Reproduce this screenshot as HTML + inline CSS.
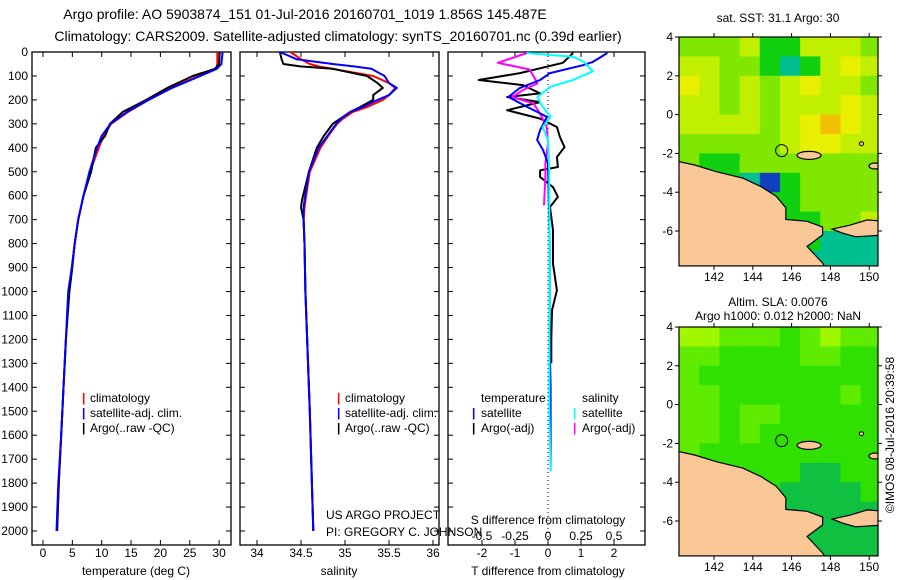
<!DOCTYPE html>
<html><head><meta charset="utf-8"><style>
html,body{margin:0;padding:0;background:#fff;}
svg{display:block;font-family:"Liberation Sans",sans-serif;font-size:12px;}
</style></head><body>
<svg id="fig" width="900" height="580" viewBox="0 0 900 580">
<text x="305" y="19" text-anchor="middle" font-size="14">Argo profile: AO 5903874_151 01-Jul-2016 20160701_1019 1.856S 145.487E</text>
<text x="338" y="41" text-anchor="middle" font-size="14">Climatology: CARS2009. Satellite-adjusted climatology: synTS_20160701.nc (0.39d earlier)</text>
<g id="p1"></g>
<g id="p2"></g>
<g id="p3"></g>
<g id="m1"></g>
<g id="m2"></g>
<text x="82" y="402" fill="red" font-weight="bold">|</text>
<text x="90" y="402">climatology</text>
<text x="82" y="417" fill="blue" font-weight="bold">|</text>
<text x="90" y="417">satellite-adj. clim.</text>
<text x="82" y="432" font-weight="bold">|</text>
<text x="90" y="432">Argo(..raw -QC)</text>
<text x="337" y="402" fill="red" font-weight="bold">|</text>
<text x="345" y="402">climatology</text>
<text x="337" y="417" fill="blue" font-weight="bold">|</text>
<text x="345" y="417">satellite-adj. clim.</text>
<text x="337" y="432" font-weight="bold">|</text>
<text x="345" y="432">Argo(..raw -QC)</text>
<text x="481" y="402">temperature</text>
<text x="582" y="402">salinity</text>
<text x="472" y="417" fill="blue" font-weight="bold">|</text>
<text x="481" y="417">satellite</text>
<text x="472" y="432" font-weight="bold">|</text>
<text x="481" y="432">Argo(-adj)</text>
<text x="573" y="417" fill="cyan" font-weight="bold">|</text>
<text x="582" y="417">satellite</text>
<text x="573" y="432" fill="magenta" font-weight="bold">|</text>
<text x="582" y="432">Argo(-adj)</text>
<text x="326" y="519">US ARGO PROJECT</text>
<text x="326" y="536">PI: GREGORY C. JOHNSON</text>
<text x="548" y="524" text-anchor="middle">S difference from climatology</text>
<text x="136" y="575" text-anchor="middle">temperature (deg C)</text>
<text x="339" y="575" text-anchor="middle">salinity</text>
<text x="548" y="575" text-anchor="middle">T difference from climatology</text>
<text x="778" y="22" text-anchor="middle">sat. SST: 31.1 Argo: 30</text>
<text x="778" y="306" text-anchor="middle">Altim. SLA: 0.0076</text>
<text x="778" y="320" text-anchor="middle">Argo h1000: 0.012 h2000: NaN</text>
<text transform="translate(894,435) rotate(-90)" text-anchor="middle">©IMOS 08-Jul-2016 20:39:58</text>
</svg>
<script>
// ---- profile data ----
const depthT = [0,50,70,100,150,200,250,300,350,400,500,600,700,800,900,1000,1200,1400,1600,1800,2000];
const tempClim = [29.7,29.7,29.5,26.5,21.8,18.0,14.5,11.6,10.3,9.5,8.0,6.9,6.0,5.4,4.9,4.4,3.9,3.5,3.1,2.7,2.4];
const tempSat  = [30.6,30.4,29.6,26.8,22.0,18.0,14.3,11.5,10.0,9.2,7.9,6.9,6.0,5.4,4.9,4.3,3.9,3.5,3.1,2.6,2.3];
const tempArgo = [30.1,30.0,29.3,25.5,21.2,17.6,13.6,11.4,10.6,9.0,8.2,6.9,6.0,5.4,5.0,4.5,3.9,3.5,3.1,2.7,2.4];
const depthS = [0,30,50,60,70,100,130,150,180,200,230,250,280,300,350,400,500,620,650,700,800,1000,1500,2000];
const salClim = [34.38,34.5,34.6,34.7,34.86,35.32,35.5,35.57,35.5,35.43,35.25,35.09,34.97,34.91,34.81,34.72,34.6,34.55,34.54,34.53,34.54,34.55,34.6,34.64];
const salSat  = [34.26,34.45,34.86,35.1,35.3,35.45,35.5,35.59,35.5,35.37,35.2,35.06,34.95,34.9,34.8,34.7,34.59,34.54,34.53,34.53,34.54,34.55,34.6,34.64];
const salArgo = [34.26,34.28,34.3,34.49,34.86,35.25,35.37,35.43,35.32,35.32,35.17,35.06,34.94,34.86,34.76,34.68,34.59,34.51,34.5,34.53,34.54,34.55,34.6,34.64];
const depthDT = [4,42,55,88,117,150,188,229,271,326,367,409,464,605,800,1000,1200,1400,1600,1750];
const tdiffSat = [1.8,1.35,1.06,0.06,-0.24,-0.85,-1.2,-0.64,-0.03,-0.24,-0.33,-0.15,0.0,0.02,0.05,0.05,0.05,0.08,0.08,0.08];
const depthDA = [4,45,88,117,138,173,188,209,243,278,313,355,397,439,480,494,522,564,605,647,744,884,995,1079,1200,1300];
const tdiffArgo = [0.76,0.45,-0.85,-2.1,-0.76,-0.24,-1.24,-0.24,-1.24,-0.24,0.27,0.36,0.5,0.27,0.3,-0.24,-0.24,0.15,0.3,0.06,0.15,0.15,0.27,0.12,0.1,0.1];
const depthDS = [4,20,40,80,117,145,188,229,271,313,367,500,800,1200,1500,1750];
const sdiffSat = [-0.16,0.19,0.27,0.34,0.19,0.02,-0.08,-0.04,0.02,-0.04,0.0,0.01,0.01,0.01,0.01,0.02];
const depthDM = [4,32,45,73,100,131,159,188,215,257,313,382,464,520,640];
const sdiffArgo = [-0.16,-0.31,-0.38,-0.14,-0.11,-0.08,-0.19,-0.27,-0.11,-0.06,-0.01,0.0,-0.02,-0.02,-0.03];
const depthTicks = [0,100,200,300,400,500,600,700,800,900,1000,1100,1200,1300,1400,1500,1600,1700,1800,1900,2000];
const tempTicks = [0,5,10,15,20,25,30];
const salTicks = [34,34.5,35,35.5,36];
const tdTicks = [-2,-1,0,1,2];
const sdTicks = [-0.5,-0.25,0,0.25,0.5];
// ---- map data (1-degree blocks, lat 4 -> -8, lon 140.2 -> 150.6) ----
const sstGrid = [
[3,3,3,4,2,2,4,4,4,3],[4,4,3,3,2,1,2,4,5,4],[5,4,3,4,3,4,5,4,4,3],[4,4,3,4,3,4,4,4,5,4],
[4,4,4,4,3,4,5,6,5,4],[3,3,3,3,3,4,5,5,4,4],[3,2,2,3,3,3,3,3,3,3],[2,2,2,1,0,2,3,3,3,3],
[2,2,2,2,2,2,3,3,3,3],[2,2,2,2,2,2,2,3,3,4],[2,2,2,2,2,2,2,1,1,1],[2,2,2,2,2,1,1,1,1,1]];
const slaGrid = [
[4,4,3,3,3,2,3,4,3,3],[3,3,2,2,2,2,3,3,2,2],[3,2,2,2,2,2,2,2,2,2],[3,3,2,2,2,2,2,2,3,2],
[3,3,2,3,3,2,2,2,2,2],[3,3,2,3,2,2,2,2,2,2],[3,2,2,2,2,2,2,2,2,2],[2,2,2,2,2,2,1,1,2,2],
[2,2,2,2,2,1,1,1,1,2],[2,2,2,2,2,1,1,1,1,1],[1,1,1,1,1,1,1,1,1,1],[1,1,1,1,1,1,1,1,1,1]];
const latTicks = [4,2,0,-2,-4,-6];
const lonTicks = [142,144,146,148,150];
const argoPos = [145.487,-1.856];

const NS='http://www.w3.org/2000/svg';
function mk(parent,tag,attrs,name,txt){const e=document.createElementNS(NS,tag);for(const k in attrs)e.setAttribute(k,attrs[k]);


if(txt!==undefined)e.textContent=txt;parent.appendChild(e);return e;}
const yD = d => 52 + d*0.2395;
const PB = 545;
function line(g,xs,ds,xf,col,w,name){let p='';xs.forEach((v,i)=>{p+=(i?'L':'M')+xf(v).toFixed(1)+','+yD(ds[i]).toFixed(1);});
mk(g,'path',{d:p,fill:'none',stroke:col,'stroke-width':w,'stroke-linejoin':'round'},name);}
function frame(g,x0,x1,xf,xt,fmt,labelY,nm){
 mk(g,'rect',{x:x0,y:52,width:x1-x0,height:PB-52,fill:'none',stroke:'#000','stroke-width':1.3},nm+'-frame');
 xt.forEach(v=>{const x=xf(v);mk(g,'line',{x1:x,x2:x,y1:52,y2:57,stroke:'#000'},nm+'-top-tick');
  mk(g,'line',{x1:x,x2:x,y1:PB,y2:PB-5,stroke:'#000'},nm+'-bottom-tick');
  if(labelY)mk(g,'text',{x:x,y:labelY,'text-anchor':'middle'},nm+'-x-tick-label',fmt(v));});
 depthTicks.forEach(d=>{mk(g,'line',{x1:x0,x2:x0+5,y1:yD(d),y2:yD(d),stroke:'#000'},nm+'-y-tick');
  mk(g,'line',{x1:x1,x2:x1-5,y1:yD(d),y2:yD(d),stroke:'#000'},nm+'-y-tick-right');});
}
// panel 1
const g1=document.getElementById('p1');const xT=t=>43+t*5.87;
frame(g1,32,231,xT,tempTicks,v=>v,557,'temp');
depthTicks.forEach(d=>mk(g1,'text',{x:28,y:yD(d)+4,'text-anchor':'end'},'depth-tick-label',d));
line(g1,tempClim,depthT,xT,'red',2,'temp-climatology-line');
line(g1,tempArgo,depthT,xT,'#000',2,'temp-argo-line');
line(g1,tempSat,depthT,xT,'blue',2,'temp-satellite-line');
// panel 2
const g2=document.getElementById('p2');const xS=s=>257+(s-34)*88;
frame(g2,240,439,xS,salTicks,v=>v,557,'sal');
line(g2,salClim,depthS,xS,'red',2,'sal-climatology-line');
line(g2,salArgo,depthS,xS,'#000',2,'sal-argo-line');
line(g2,salSat,depthS,xS,'blue',2,'sal-satellite-line');
// panel 3
const g3=document.getElementById('p3');const xTD=t=>548+t*33;const xSD=s=>548+s*132;
frame(g3,448,645,xTD,tdTicks,v=>v,557,'diff');
sdTicks.forEach(v=>mk(g3,'text',{x:xSD(v),y:540,'text-anchor':'middle'},'s-diff-tick-label',v));
mk(g3,'line',{x1:548,x2:548,y1:52,y2:PB,stroke:'#000','stroke-dasharray':'1,3'},'zero-dotted-line');
line(g3,tdiffArgo,depthDA,xTD,'#000',2,'tdiff-argo-line');
line(g3,sdiffArgo,depthDM,xSD,'magenta',2,'sdiff-argo-line');
line(g3,tdiffSat,depthDT,xTD,'blue',2,'tdiff-satellite-line');
line(g3,sdiffSat,depthDS,xSD,'cyan',2,'sdiff-satellite-line');
// maps
const sstCol=['#1040c0','#00c090','#10d010','#80e800','#c0f000','#e8f000','#f0c000'];
const slaCol=['#10b050','#10c040','#30e000','#60ec00','#a0f800'];
function map(id,y0,grid,cols,nm){
 const g=document.getElementById(id);const x0=679,x1=878;
 const lx=l=>714+(l-142)*19.4;const ly=l=>y0+(4-l)*19.4;const yb=ly(-7.8);
 const cl=mk(g,'clipPath',{id:id+'c'},nm+'-clip');mk(cl,'rect',{x:x0,y:y0,width:x1-x0,height:yb-y0},nm+'-clip-rect');
 const gg=mk(g,'g',{'clip-path':'url(#'+id+'c)'},nm+'-cells');
 grid.forEach((row,r)=>row.forEach((v,c)=>{const la=140.2+c*1.04;
  mk(gg,'rect',{x:lx(la),y:ly(4-r),width:1.04*19.4+0.5,height:19.9,fill:cols[v]},nm+'-cell');}));
 const coast=[[140.1,-2.4],[141,-2.6],[142.1,-2.94],[143.5,-3.28],[144.4,-3.7],[145.2,-4.2],[145.7,-4.8],[145.7,-5.4],[146.8,-5.5],[147.6,-5.8],[147.6,-6.2],[146.8,-6.8],[147.6,-7.65],[147.8,-8],[140.1,-8]];
 mk(gg,'path',{d:'M'+coast.map(p=>lx(p[0]).toFixed(1)+','+ly(p[1]).toFixed(1)).join('L')+'Z',fill:'#fac896',stroke:'#000','stroke-width':1.2},nm+'-new-guinea-land');
 const nb=[[148.1,-5.9],[149,-5.7],[149.9,-5.43],[150.8,-5.5],[150.8,-6.2],[149.3,-6.3],[148.6,-6.1]];
 mk(gg,'path',{d:'M'+nb.map(p=>lx(p[0]).toFixed(1)+','+ly(p[1]).toFixed(1)).join('L')+'Z',fill:'#fac896',stroke:'#000','stroke-width':1.2},nm+'-new-britain-land');
 mk(gg,'ellipse',{cx:lx(146.9),cy:ly(-2.1),rx:12,ry:4,fill:'#fac896',stroke:'#000','stroke-width':1.2},nm+'-manus-island');
 mk(gg,'ellipse',{cx:lx(150.3),cy:ly(-2.65),rx:6,ry:3,fill:'#fac896',stroke:'#000','stroke-width':1.2},nm+'-island');
 mk(gg,'ellipse',{cx:lx(149.6),cy:ly(-1.5),rx:2,ry:2,fill:'#fac896',stroke:'#000'},nm+'-island-small');
 mk(g,'circle',{cx:lx(argoPos[0]),cy:ly(argoPos[1]),r:6,fill:'none',stroke:'#000'},nm+'-argo-location');
 mk(g,'rect',{x:x0,y:y0,width:x1-x0,height:yb-y0,fill:'none',stroke:'#000','stroke-width':1.2},nm+'-frame');
 latTicks.forEach(l=>{mk(g,'line',{x1:x0,x2:x0-4,y1:ly(l),y2:ly(l),stroke:'#000'},nm+'-lat-tick');
  mk(g,'line',{x1:x1,x2:x1+4,y1:ly(l),y2:ly(l),stroke:'#000'},nm+'-lat-tick-right');
  mk(g,'text',{x:673,y:ly(l)+4,'text-anchor':'end'},nm+'-lat-label',l);});
 lonTicks.forEach(l=>{mk(g,'line',{x1:lx(l),x2:lx(l),y1:yb,y2:yb+4,stroke:'#000'},nm+'-lon-tick');
  mk(g,'line',{x1:lx(l),x2:lx(l),y1:y0,y2:y0-4,stroke:'#000'},nm+'-lon-tick-top');
  mk(g,'text',{x:lx(l),y:yb+15,'text-anchor':'middle'},nm+'-lon-label',l);});
}
map('m1',37,sstGrid,sstCol,'sst-map');
map('m2',327,slaGrid,slaCol,'sla-map');
</script>
</body></html>
